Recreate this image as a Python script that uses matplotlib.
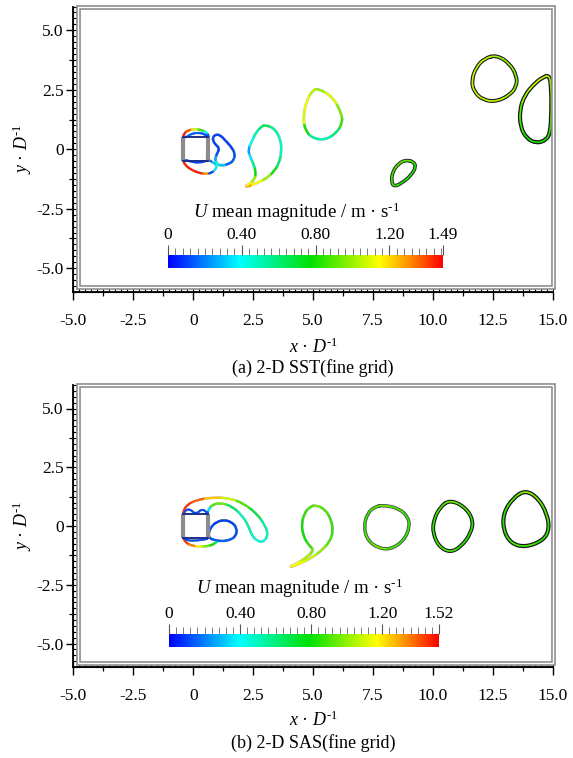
import numpy as np
import matplotlib
matplotlib.use('Agg')
import matplotlib.pyplot as plt
from matplotlib.path import Path
from matplotlib.patches import PathPatch, Rectangle
from matplotlib.collections import PatchCollection
from matplotlib.colors import Normalize, LinearSegmentedColormap
import matplotlib.cm as cm
from matplotlib.ticker import FixedLocator

plt.rcParams['font.family'] = ['Liberation Serif', 'DejaVu Serif']
plt.rcParams['mathtext.fontset'] = 'custom'
plt.rcParams['mathtext.rm'] = 'Liberation Serif'
plt.rcParams['mathtext.it'] = 'Liberation Serif:italic'
plt.rcParams['mathtext.bf'] = 'Liberation Serif:bold'

# ---------------- data ----------------
x_ticks = [-5.0, -2.5, 0.0, 2.5, 5.0, 7.5, 10.0, 12.5, 15.0]
x_tick_labels = ['-5.0', '-2.5', '0', '2.5', '5.0', '7.5', '10.0', '12.5', '15.0']
y_ticks = [-5.0, -2.5, 0.0, 2.5, 5.0]
y_tick_labels = ['-5.0', '-2.5', '0', '2.5', '5.0']

umax_a = 1.49
umax_b = 1.52
cbar_ticks_a = [0.0, 0.40, 0.80, 1.20, 1.49]
cbar_labels_a = ['0', '0.40', '0.80', '1.20', '1.49']
cbar_ticks_b = [0.0, 0.40, 0.80, 1.20, 1.52]
cbar_labels_b = ['0', '0.40', '0.80', '1.20', '1.52']

cyl_x = [-0.42, 0.62]
cyl_y = [-0.50, 0.50]

# ---- panel (a) 2-D SST contours: x, y, U ----
a_top_x = [-0.42, -0.38, -0.21, 0.07, 0.35, 0.56, 0.66, 0.60, 0.45, 0.18, -0.10, -0.31]
a_top_y = [0.50, 0.67, 0.80, 0.85, 0.81, 0.71, 0.53, 0.53, 0.65, 0.70, 0.64, 0.50]
a_top_u = [1.40, 1.45, 1.40, 1.10, 0.85, 0.40, 0.15, 0.12, 0.12, 0.15, 0.15, 0.20]

a_bot_x = [-0.42, -0.35, -0.07, 0.28, 0.56, 0.77, 0.95, 0.97, 0.84, 0.66, 0.56, 0.28, -0.07, -0.31]
a_bot_y = [-0.45, -0.66, -0.87, -1.01, -1.04, -0.99, -0.83, -0.66, -0.57, -0.45, -0.48, -0.57, -0.53, -0.45]
a_bot_u = [1.40, 1.45, 1.45, 1.45, 1.30, 0.10, 0.35, 0.45, 0.30, 0.15, 0.12, 0.12, 0.12, 0.15]

a_kid_x = [0.81, 0.95, 1.14, 1.32, 1.58, 1.74, 1.70, 1.50, 1.14, 0.95, 0.92, 1.02, 1.09, 0.95, 0.84]
a_kid_y = [0.50, 0.63, 0.58, 0.39, 0.11, -0.17, -0.45, -0.62, -0.70, -0.58, -0.34, -0.14, 0.04, 0.18, 0.32]
a_kid_u = [0.12, 0.10, 0.10, 0.10, 0.10, 0.12, 0.15, 0.15, 0.30, 0.40, 0.25, 0.12, 0.10, 0.10, 0.12]

a_comma_x = [2.99, 3.40, 3.65, 3.68, 3.58, 3.36, 3.06, 2.64, 2.15, 2.33, 2.57, 2.61, 2.50, 2.36, 2.29, 2.43, 2.64, 2.85]
a_comma_y = [1.02, 0.88, 0.39, -0.10, -0.59, -0.94, -1.22, -1.43, -1.60, -1.46, -1.26, -0.94, -0.59, -0.28, -0.03, 0.32, 0.74, 0.96]
a_comma_u = [0.65, 0.55, 0.48, 0.48, 0.60, 0.80, 1.00, 1.15, 1.30, 1.15, 1.00, 0.75, 0.55, 0.35, 0.25, 0.40, 0.50, 0.60]

a_egg_x = [5.20, 5.81, 6.19, 6.22, 5.96, 5.50, 4.97, 4.66, 4.58, 4.74, 4.97]
a_egg_y = [2.56, 2.21, 1.51, 1.09, 0.67, 0.39, 0.46, 0.81, 1.37, 2.07, 2.46]
a_egg_u = [1.00, 1.10, 0.95, 0.85, 0.60, 0.50, 0.55, 0.80, 1.10, 1.12, 1.05]

a_oval_x = [9.18, 9.29, 9.10, 8.72, 8.37, 8.26, 8.31, 8.57, 8.87]
a_oval_y = [-0.52, -0.73, -1.08, -1.41, -1.58, -1.36, -0.94, -0.59, -0.45]
a_oval_u = [0.85, 0.80, 0.80, 0.80, 0.85, 0.85, 0.85, 0.90, 0.90]

a_ring_x = [12.64, 13.20, 13.50, 13.47, 13.20, 12.64, 12.08, 11.70, 11.60, 11.81, 12.15]
a_ring_y = [3.96, 3.61, 3.05, 2.63, 2.28, 2.00, 2.07, 2.42, 2.91, 3.47, 3.82]
a_ring_u = [1.00, 1.00, 0.95, 0.95, 1.00, 1.05, 1.05, 1.05, 1.05, 1.05, 1.05]

a_drop_x = [14.86, 14.93, 14.93, 14.89, 14.73, 14.31, 13.89, 13.64, 13.61, 13.82, 14.24, 14.58]
a_drop_y = [3.12, 2.49, 1.51, 0.74, 0.39, 0.25, 0.46, 0.95, 1.65, 2.28, 2.77, 3.03]
a_drop_u = [1.00, 0.95, 0.90, 0.85, 0.80, 0.80, 0.80, 0.85, 0.90, 1.00, 1.05, 1.05]

# ---- panel (b) 2-D SAS contours: x, y, U ----
b_up_x = [-0.42, -0.42, -0.28, 0.14, 0.83, 1.53, 2.08, 2.64, 2.99, 3.13, 2.92, 2.64, 2.43, 2.29, 2.02, 1.60, 1.11, 0.77, 0.63, 0.58]
b_up_y = [0.50, 0.61, 0.89, 1.11, 1.22, 1.18, 0.97, 0.54, 0.04, -0.38, -0.70, -0.62, -0.38, 0.04, 0.47, 0.85, 0.99, 0.89, 0.68, 0.50]
b_up_u = [1.45, 1.45, 1.45, 1.40, 1.25, 1.10, 0.90, 0.70, 0.55, 0.50, 0.45, 0.45, 0.50, 0.55, 0.50, 0.65, 0.95, 0.90, 0.35, 0.15]

b_low_x = [-0.42, -0.30, -0.05, 0.28, 0.60, 0.85, 1.00]
b_low_y = [-0.50, -0.72, -0.84, -0.88, -0.86, -0.78, -0.66]
b_low_u = [1.45, 1.45, 1.35, 1.15, 0.95, 0.80, 0.60]

b_kid_x = [0.63, 0.77, 0.98, 1.25, 1.60, 1.83, 1.78, 1.53, 1.18, 0.90, 0.67]
b_kid_y = [-0.31, 0.00, 0.17, 0.26, 0.18, -0.10, -0.43, -0.60, -0.65, -0.60, -0.52]
b_kid_u = [0.12, 0.12, 0.10, 0.10, 0.10, 0.12, 0.12, 0.15, 0.15, 0.15, 0.12]

b_cap_x = [-0.40, -0.30, -0.10, 0.02, 0.20, 0.32, 0.50, 0.58]
b_cap_y = [0.52, 0.70, 0.70, 0.55, 0.56, 0.70, 0.66, 0.52]
b_cap_u = [0.15, 0.12, 0.12, 0.12, 0.12, 0.12, 0.12, 0.12]

b_base_x = [-0.40, -0.25, 0.20, 0.58]
b_base_y = [-0.52, -0.62, -0.62, -0.55]
b_base_u = [0.15, 0.12, 0.12, 0.12]

b_comma_x = [5.12, 5.50, 5.76, 5.83, 5.69, 5.35, 4.89, 4.38, 3.97, 4.28, 4.74, 5.04, 4.81, 4.60, 4.51, 4.63, 4.86]
b_comma_y = [0.89, 0.71, 0.26, -0.24, -0.67, -1.05, -1.38, -1.63, -1.77, -1.62, -1.33, -1.02, -0.81, -0.45, 0.04, 0.54, 0.82]
b_comma_u = [0.95, 0.90, 0.85, 0.85, 0.90, 1.00, 1.10, 1.15, 1.20, 1.15, 1.05, 0.95, 0.85, 0.80, 0.80, 0.85, 0.90]

b_v1_x = [7.95, 8.57, 8.95, 9.03, 8.80, 8.26, 7.72, 7.26, 7.11, 7.26, 7.57]
b_v1_y = [0.89, 0.75, 0.40, -0.03, -0.60, -0.99, -0.95, -0.60, -0.03, 0.54, 0.82]
b_v1_u = [0.95, 0.90, 0.85, 0.85, 0.85, 0.90, 0.95, 0.90, 0.85, 0.85, 0.90]

b_v2_x = [10.71, 11.32, 11.68, 11.58, 11.17, 10.71, 10.25, 9.99, 10.02, 10.30]
b_v2_y = [1.11, 0.82, 0.26, -0.31, -0.88, -1.13, -0.88, -0.31, 0.26, 0.82]
b_v2_u = [0.95, 0.90, 0.85, 0.85, 0.85, 0.90, 0.90, 0.85, 0.85, 0.90]

b_v3_x = [13.85, 14.39, 14.74, 14.85, 14.62, 13.85, 13.24, 12.93, 12.93, 13.32]
b_v3_y = [1.53, 1.18, 0.54, -0.10, -0.60, -0.91, -0.74, -0.17, 0.54, 1.18]
b_v3_u = [1.00, 0.95, 0.90, 0.85, 0.85, 0.90, 0.90, 0.85, 0.85, 0.90]

# ---------------- drawing helpers ----------------
cmap = LinearSegmentedColormap.from_list(
    'tec_rainbow',
    [(0.0, '#0000ff'), (0.26, '#00ffff'), (0.52, '#00e000'),
     (0.77, '#ffff00'), (0.88, '#ff8c00'), (1.0, '#ff0000')], N=256)


def draw_contour(ax, xs, ys, us, norm, closed=True, lw=1.6, edge=0.0, edge_alpha=0.9):
    P = np.column_stack([xs, ys]).astype(float)
    u = np.asarray(us, dtype=float)
    n = len(P)
    pieces = []
    cols = []
    if closed:
        M = (P + np.roll(P, -1, axis=0)) / 2.0
        verts = [M[-1]]
        codes = [Path.MOVETO]
        for i in range(n):
            verts += [P[i], M[i]]
            codes += [Path.CURVE3, Path.CURVE3]
            pieces.append(Path([M[i - 1], P[i], M[i]], [Path.MOVETO, Path.CURVE3, Path.CURVE3]))
            cols.append(cmap(norm(u[i])))
    else:
        M = (P[:-1] + P[1:]) / 2.0
        verts = [P[0], M[0]]
        codes = [Path.MOVETO, Path.LINETO]
        pieces.append(Path([P[0], M[0]], [Path.MOVETO, Path.LINETO]))
        cols.append(cmap(norm(u[0])))
        for i in range(1, n - 1):
            verts += [P[i], M[i]]
            codes += [Path.CURVE3, Path.CURVE3]
            pieces.append(Path([M[i - 1], P[i], M[i]], [Path.MOVETO, Path.CURVE3, Path.CURVE3]))
            cols.append(cmap(norm(u[i])))
        verts += [P[-1]]
        codes += [Path.LINETO]
        pieces.append(Path([M[-1], P[-1]], [Path.MOVETO, Path.LINETO]))
        cols.append(cmap(norm(u[-1])))
    if edge > 0:
        ax.add_patch(PathPatch(Path(verts, codes), facecolor='none', edgecolor='black',
                               lw=lw + edge, alpha=edge_alpha, capstyle='round',
                               joinstyle='round', zorder=3))
    pc = PatchCollection([PathPatch(p) for p in pieces], facecolors='none',
                         edgecolors=cols, linewidths=lw, capstyle='round',
                         joinstyle='round', zorder=4)
    ax.add_collection(pc)


def draw_cylinder(ax):
    x0, x1 = cyl_x
    y0, y1 = cyl_y
    ax.add_patch(Rectangle((x0, y0), x1 - x0, y1 - y0, facecolor='white',
                           edgecolor='#8c8c8c', lw=1.2, zorder=2))
    ax.plot([x0, x0], [y0, y1], color='#8c8c8c', lw=3.0, zorder=5, solid_capstyle='butt')
    ax.plot([x1, x1], [y0, y1], color='#8c8c8c', lw=3.0, zorder=5, solid_capstyle='butt')
    ax.plot([x0, x1], [y1, y1], color='#1a2a8a', lw=1.3, zorder=5)
    ax.plot([x0, x1], [y0, y0], color='#1a2a8a', lw=1.3, zorder=5)


def style_axes(ax):
    ax.set_xlim(-5, 15)
    ax.set_ylim(-6, 6)
    ax.set_xticks(x_ticks)
    ax.set_xticklabels(x_tick_labels)
    ax.set_yticks(y_ticks)
    ax.set_yticklabels(y_tick_labels)
    ax.xaxis.set_minor_locator(FixedLocator(np.arange(-5, 15.01, 1.25)))
    ax.yaxis.set_minor_locator(FixedLocator(np.arange(-6.25, 6.01, 1.25)))
    ax.tick_params(axis='x', which='major', direction='out', length=6, width=1.0,
                   labelsize=12.5, pad=9, top=False)
    ax.tick_params(axis='y', which='major', direction='out', length=5, width=1.0,
                   labelsize=12.5, pad=2, right=False)
    ax.tick_params(which='minor', direction='out', length=3.2, width=0.9,
                   top=False, right=False)
    for s in ['left', 'bottom']:
        ax.spines[s].set_color('black')
        ax.spines[s].set_linewidth(1.3)
    for s in ['top', 'right']:
        ax.spines[s].set_visible(False)
    # dense inner ticks (hatched band)
    secx = ax.secondary_xaxis('bottom')
    secx.set_xticks(np.arange(-5, 15.01, 0.25))
    secx.tick_params(direction='in', length=3.6, width=0.8, labelbottom=False)
    secy = ax.secondary_yaxis('left')
    secy.set_yticks(np.arange(-6, 6.01, 0.25))
    secy.tick_params(direction='in', length=3.6, width=0.8, labelleft=False)
    # gray double frame
    fx = 4.5 / 480.0
    fy = 4.5 / 285.0
    for c, w in [('#8f8f8f', 3.4), ('white', 1.0)]:
        ax.add_patch(Rectangle((fx, fy), 1 - fx, 1 - fy, transform=ax.transAxes,
                               fill=False, edgecolor=c, lw=w, clip_on=False, zorder=6))


def add_cbar(fig, rect, umax, ticks, labels, title_xy):
    cax = fig.add_axes(rect)
    sm = cm.ScalarMappable(norm=Normalize(0, umax), cmap=cmap)
    cb = fig.colorbar(sm, cax=cax, orientation='horizontal')
    cb.outline.set_visible(False)
    cax.xaxis.set_ticks_position('top')
    cb.set_ticks(ticks)
    cb.set_ticklabels(labels)
    cax.xaxis.set_minor_locator(FixedLocator(np.arange(0, umax, 0.04)))
    cax.tick_params(which='major', length=7.5, width=0.8, color='#555555',
                    direction='out', labelsize=12.5, pad=1, top=True, bottom=False)
    cax.tick_params(which='minor', length=5, width=0.6, color='#666666',
                    direction='out', top=True, bottom=False)
    fig.text(title_xy[0], title_xy[1], r'$U$ mean magnitude / m · s$^{\text{-}1}$',
             ha='center', va='center', fontsize=13.5)


# ---------------- figure ----------------
W, H = 573.0, 758.0
fig = plt.figure(figsize=(5.73, 7.58), dpi=100)

axL, axR = 73.3, 553.0
ax_a = fig.add_axes([axL / W, 1 - 292 / H, (axR - axL) / W, (292 - 6.5) / H])
ax_b = fig.add_axes([axL / W, 1 - 667 / H, (axR - axL) / W, (667 - 385) / H])

norm_a = Normalize(0, umax_a)
norm_b = Normalize(0, umax_b)

for ax in (ax_a, ax_b):
    style_axes(ax)
    draw_cylinder(ax)

# panel a
draw_contour(ax_a, a_top_x, a_top_y, a_top_u, norm_a, lw=1.5, edge=0.3, edge_alpha=0.3)
draw_contour(ax_a, a_bot_x, a_bot_y, a_bot_u, norm_a, lw=1.5, edge=0.3, edge_alpha=0.3)
draw_contour(ax_a, a_kid_x, a_kid_y, a_kid_u, norm_a, lw=1.5, edge=0.4, edge_alpha=0.5)
draw_contour(ax_a, a_comma_x, a_comma_y, a_comma_u, norm_a, lw=1.6, edge=0.4, edge_alpha=0.25)
draw_contour(ax_a, a_egg_x, a_egg_y, a_egg_u, norm_a, lw=1.6, edge=0.4, edge_alpha=0.25)
draw_contour(ax_a, a_oval_x, a_oval_y, a_oval_u, norm_a, lw=1.2, edge=1.4, edge_alpha=0.85)
draw_contour(ax_a, a_ring_x, a_ring_y, a_ring_u, norm_a, lw=1.2, edge=1.6, edge_alpha=0.9)
draw_contour(ax_a, a_drop_x, a_drop_y, a_drop_u, norm_a, lw=1.2, edge=1.8, edge_alpha=0.9)

# panel b
draw_contour(ax_b, b_up_x, b_up_y, b_up_u, norm_b, closed=False, lw=1.5, edge=0.3, edge_alpha=0.3)
draw_contour(ax_b, b_low_x, b_low_y, b_low_u, norm_b, closed=False, lw=1.5, edge=0.3, edge_alpha=0.3)
draw_contour(ax_b, b_kid_x, b_kid_y, b_kid_u, norm_b, lw=1.5, edge=0.4, edge_alpha=0.5)
draw_contour(ax_b, b_cap_x, b_cap_y, b_cap_u, norm_b, closed=False, lw=1.3, edge=0.3, edge_alpha=0.5)
draw_contour(ax_b, b_base_x, b_base_y, b_base_u, norm_b, closed=False, lw=1.3, edge=0.3, edge_alpha=0.5)
draw_contour(ax_b, b_comma_x, b_comma_y, b_comma_u, norm_b, lw=1.5, edge=0.5, edge_alpha=0.3)
draw_contour(ax_b, b_v1_x, b_v1_y, b_v1_u, norm_b, lw=1.3, edge=1.2, edge_alpha=0.7)
draw_contour(ax_b, b_v2_x, b_v2_y, b_v2_u, norm_b, lw=1.2, edge=1.6, edge_alpha=0.9)
draw_contour(ax_b, b_v3_x, b_v3_y, b_v3_u, norm_b, lw=1.2, edge=1.8, edge_alpha=0.9)

# colour bars
add_cbar(fig, [168 / W, 1 - 268 / H, 275 / W, 13 / H], umax_a, cbar_ticks_a, cbar_labels_a,
         (297 / W, 1 - 212 / H))
add_cbar(fig, [169 / W, 1 - 647 / H, 270 / W, 13 / H], umax_b, cbar_ticks_b, cbar_labels_b,
         (300 / W, 1 - 588 / H))

# axis labels and captions
cx = (axL + axR) / 2 / W
xlab = r'$x$ · $D^{\text{-}1}$'
ylab = r'$y$ · $D^{\text{-}1}$'
fig.text(cx, 1 - 347 / H, xlab, ha='center', va='center', fontsize=13)
fig.text(cx, 1 - 720 / H, xlab, ha='center', va='center', fontsize=13)
fig.text(22 / W, 1 - 149 / H, ylab, ha='center', va='center', fontsize=13, rotation=90)
fig.text(22 / W, 1 - 526 / H, ylab, ha='center', va='center', fontsize=13, rotation=90)
fig.text(cx, 1 - 368 / H, '(a) 2-D SST(fine grid)', ha='center', va='center', fontsize=13)
fig.text(cx, 1 - 743 / H, '(b) 2-D SAS(fine grid)', ha='center', va='center', fontsize=13)

fig.savefig('out.png', dpi=100, facecolor='white')
